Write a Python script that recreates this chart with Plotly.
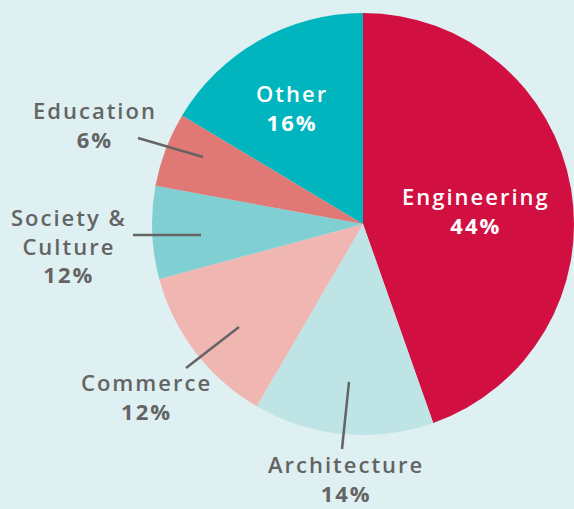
import plotly.graph_objects as go

W, H = 574, 509

categories = ["Engineering", "Architecture", "Commerce", "Society & Culture", "Education", "Other"]
shares = [44.6, 13.8, 12.4, 7.1, 5.7, 16.4]          # visual slice sizes
pct_labels = ["44%", "14%", "12%", "12%", "6%", "16%"]  # printed labels
colors = ["#D11041", "#BFE4E6", "#F0B6B2", "#7FCFD3", "#E07975", "#00B5BD"]

BG = "#DEF0F1"
GREY = "#646464"

# pie geometry (pixels)
cx, cy, r = 363, 224, 211

fig = go.Figure(go.Pie(
    labels=categories,
    values=shares,
    sort=False,
    direction="clockwise",
    rotation=0,
    marker=dict(colors=colors, line=dict(width=0)),
    textinfo="none",
    hoverinfo="skip",
    domain=dict(x=[(cx - r) / W, min(1, (cx + r) / W)],
                y=[1 - (cy + r) / H, 1 - (cy - r) / H]),
))

def px(x, y):
    return x / W, 1 - y / H

FONT = "Open Sans"
# label block centre (pixels) and colour
label_layout = {
    "Engineering": (475, 210, "white"),
    "Other": (291, 108, "white"),
    "Education": (94, 124, GREY),
    "Society & Culture": (68, 245, GREY),
    "Commerce": (145, 396, GREY),
    "Architecture": (345, 478, GREY),
}

def spaced(t, ls=2):
    return f'<span style="letter-spacing:{ls}px">{t}</span>'

annotations = []
for cat, pct in zip(categories, pct_labels):
    x, y, col = label_layout[cat]
    words = ["Society &", "Culture"] if cat == "Society & Culture" else [cat]
    text = "<br>".join(spaced(w) for w in words) + "<br><b>" + spaced(pct) + "</b>"
    ax, ay = px(x + 1, y)
    annotations.append(dict(
        x=ax, y=ay, xref="paper", yref="paper", xanchor="center", yanchor="middle",
        text=text, showarrow=False, align="center",
        font=dict(family=FONT, size=22, color=col, weight=600),
    ))

leaders = [((138, 138), (203, 157)),
           ((133, 235), (201, 235)),
           ((186, 368), (239, 327)),
           ((342, 449), (349, 382))]
shapes = []
for (x0, y0), (x1, y1) in leaders:
    a0, b0 = px(x0, y0)
    a1, b1 = px(x1, y1)
    shapes.append(dict(type="line", xref="paper", yref="paper", x0=a0, y0=b0, x1=a1, y1=b1,
                       line=dict(color=GREY, width=2.5)))

fig.update_layout(
    width=W, height=H,
    margin=dict(l=0, r=0, t=0, b=0),
    paper_bgcolor=BG, plot_bgcolor=BG,
    showlegend=False,
    annotations=annotations,
    shapes=shapes,
)

fig.write_html("out.html",
               config={"displayModeBar": False},
               post_script="document.body.style.margin='0';document.body.style.overflow='hidden';")
